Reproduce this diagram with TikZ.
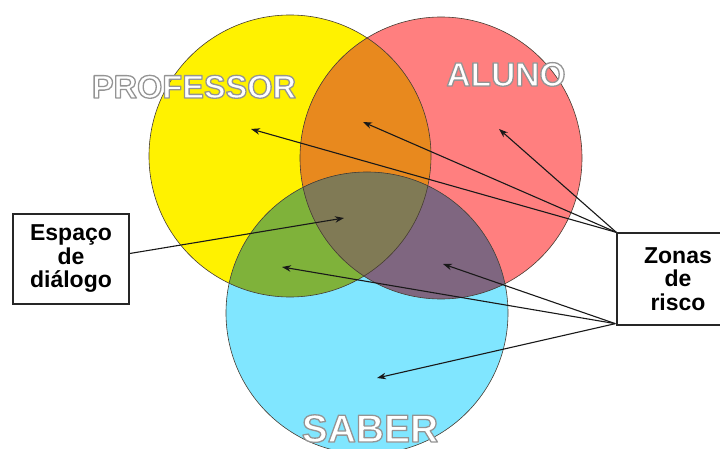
\documentclass[tikz,border=0pt]{standalone}
\usepackage{fontspec}
\setmainfont{Liberation Sans}
\usetikzlibrary{arrows.meta,calc}
\definecolor{cyel}{RGB}{255,242,0}
\definecolor{cred}{RGB}{255,127,127}
\definecolor{ccya}{RGB}{128,230,255}
\definecolor{corg}{RGB}{232,137,30}
\definecolor{cgrn}{RGB}{127,178,58}
\definecolor{cpur}{RGB}{127,102,128}
\definecolor{cmid}{RGB}{128,122,85}
\definecolor{cline}{RGB}{70,60,50}
\tikzset{
  arr/.style={draw=black!90,line width=1.1pt,-{Stealth[length=9pt,width=6.5pt]}},
  ring/.style={draw=cline,line width=0.6pt},
  boxnode/.style={draw=black!85,line width=1.3pt,fill=white,align=center,
    font=\bfseries\fontsize{23}{23.5}\selectfont,inner sep=0pt},
  lbl/.style={anchor=base,inner sep=0pt,text=white,font=\bfseries\fontsize{#1}{#1}\selectfont}
}
% white letters with a soft grey outline (text render mode 2: fill + stroke)
\newcommand\outlined[1]{\special{pdf:code q 2 Tr 1.3 w 1 j 0.58 G}#1\special{pdf:code Q}}
\begin{document}
\begin{tikzpicture}[x=1pt,y=-1pt]
\useasboundingbox (0,0) rectangle (720,449);
\fill[white] (0,0) rectangle (720,449);
\coordinate (cY) at (290,156);
\coordinate (cR) at (441,158);
\coordinate (cC) at (367,313);
\def\rr{141}
% base fills
\fill[cyel] (cY) circle (\rr);
\fill[cred] (cR) circle (\rr);
\fill[ccya] (cC) circle (\rr);
% pairwise overlaps
\begin{scope}\clip (cY) circle (\rr); \fill[corg] (cR) circle (\rr); \end{scope}
\begin{scope}\clip (cY) circle (\rr); \fill[cgrn] (cC) circle (\rr); \end{scope}
\begin{scope}\clip (cR) circle (\rr); \fill[cpur] (cC) circle (\rr); \end{scope}
\begin{scope}\clip (cY) circle (\rr); \clip (cR) circle (\rr); \fill[cmid] (cC) circle (\rr); \end{scope}
% outlines
\draw[ring] (cY) circle (\rr);
\draw[ring] (cR) circle (\rr);
\draw[ring] (cC) circle (\rr);
% labels
\node[lbl=32.5] (prof) at (194,98) {\outlined{PROFESSOR}};
\node[lbl=33.5] (alun) at (506,86) {\outlined{ALUNO}};
\node[lbl=39] (sabe) at (370,442) {\outlined{SABER}};
% boxes
\node[boxnode,minimum width=116pt,minimum height=90pt] (esp) at (71,259) {Espaço\\de\\diálogo};
\node[boxnode,minimum width=122pt,minimum height=92pt] (zon) at (678,279) {Zonas\\de\\risco};
% arrow targets
\coordinate (tP) at (251,129);
\coordinate (tO) at (363,122);
\coordinate (tA) at (499,129);
\coordinate (tM) at (344,218);
\coordinate (tG) at (282,267);
\coordinate (tU) at (443,264);
\coordinate (tC) at (377,378);
\coordinate (zu) at (zon.north west);
\coordinate (zl) at ($(zon.south west)+(-1,-2)$);
\coordinate (es) at ($(esp.north east)!0.44!(esp.south east)$);
% arrows
\draw[arr] (zu) -- (tP);
\draw[arr] (zu) -- (tO);
\draw[arr] (zu) -- (tA);
\draw[arr] (zl) -- (tG);
\draw[arr] (zl) -- (tU);
\draw[arr] (zl) -- (tC);
\draw[arr] (es) -- (tM);
% boxes drawn again above the arrow ends
\node[boxnode,minimum width=116pt,minimum height=90pt] at (esp) {Espaço\\de\\diálogo};
\node[boxnode,minimum width=122pt,minimum height=92pt] at (zon) {Zonas\\de\\risco};
\end{tikzpicture}
\end{document}
